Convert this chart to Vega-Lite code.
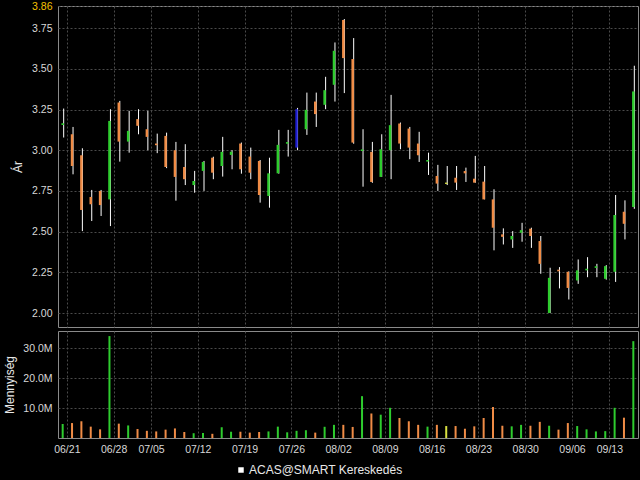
{
  "$schema": "https://vega.github.io/schema/vega-lite/v6.json",
  "background": "#000000",
  "padding": {"left": 3, "top": 0, "right": 4, "bottom": 6},
  "spacing": 2,
  "resolve": {"scale": {"color": "independent", "stroke": "shared"}, "legend": {"stroke": "shared"}},
  "config": {
    "font": "Liberation Sans",
    "view": {"stroke": "#8a8a8a", "strokeWidth": 1},
    "axis": {
      "labelColor": "#d8d8d8", "titleColor": "#e8e8e8",
      "labelFont": "Liberation Sans", "labelFontSize": 10.5,
      "titleFont": "Liberation Sans", "titleFontSize": 12, "titleFontWeight": "normal",
      "gridColor": "#4a4a4a", "gridDash": [2, 2], "gridOpacity": 1,
      "domain": false, "ticks": false, "labelPadding": 6
    }
  },
  "data": {"values": [
    {"d":"2009-06-19","o":3.155,"h":3.256,"l":3.078,"c":3.165,"v":4700000,"dir":"up"},
    {"d":"2009-06-22","o":3.098,"h":3.143,"l":2.852,"c":2.903,"v":5000000,"dir":"down"},
    {"d":"2009-06-23","o":2.969,"h":3.012,"l":2.503,"c":2.633,"v":5600000,"dir":"down"},
    {"d":"2009-06-24","o":2.713,"h":2.756,"l":2.565,"c":2.668,"v":3800000,"dir":"down"},
    {"d":"2009-06-25","o":2.75,"h":2.756,"l":2.596,"c":2.663,"v":2900000,"dir":"down"},
    {"d":"2009-06-26","o":2.698,"h":3.252,"l":2.534,"c":3.18,"v":34100000,"dir":"up"},
    {"d":"2009-06-29","o":3.293,"h":3.303,"l":2.93,"c":3.053,"v":4800000,"dir":"down"},
    {"d":"2009-06-30","o":3.053,"h":3.242,"l":2.985,"c":3.119,"v":4200000,"dir":"up"},
    {"d":"2009-07-01","o":3.191,"h":3.252,"l":3.098,"c":3.15,"v":3000000,"dir":"down"},
    {"d":"2009-07-02","o":3.129,"h":3.242,"l":3.0,"c":3.082,"v":2400000,"dir":"down"},
    {"d":"2009-07-06","o":3.041,"h":3.102,"l":2.982,"c":3.031,"v":2200000,"dir":"down"},
    {"d":"2009-07-07","o":3.088,"h":3.108,"l":2.89,"c":2.897,"v":2800000,"dir":"down"},
    {"d":"2009-07-08","o":3.0,"h":3.051,"l":2.69,"c":2.836,"v":3200000,"dir":"down"},
    {"d":"2009-07-09","o":2.897,"h":3.037,"l":2.786,"c":2.822,"v":2000000,"dir":"down"},
    {"d":"2009-07-10","o":2.786,"h":2.873,"l":2.739,"c":2.811,"v":1600000,"dir":"up"},
    {"d":"2009-07-13","o":2.873,"h":2.934,"l":2.75,"c":2.928,"v":1700000,"dir":"up"},
    {"d":"2009-07-14","o":2.954,"h":2.96,"l":2.822,"c":2.862,"v":1400000,"dir":"down"},
    {"d":"2009-07-15","o":2.903,"h":3.082,"l":2.838,"c":2.99,"v":3600000,"dir":"up"},
    {"d":"2009-07-16","o":2.971,"h":3.0,"l":2.883,"c":2.991,"v":2100000,"dir":"up"},
    {"d":"2009-07-17","o":3.041,"h":3.047,"l":2.856,"c":2.883,"v":2100000,"dir":"down"},
    {"d":"2009-07-20","o":2.961,"h":3.016,"l":2.822,"c":2.862,"v":1800000,"dir":"down"},
    {"d":"2009-07-21","o":2.934,"h":2.94,"l":2.678,"c":2.725,"v":2000000,"dir":"down"},
    {"d":"2009-07-22","o":2.719,"h":2.954,"l":2.647,"c":2.858,"v":2200000,"dir":"up"},
    {"d":"2009-07-23","o":2.858,"h":3.125,"l":2.856,"c":3.033,"v":3800000,"dir":"up"},
    {"d":"2009-07-24","o":3.04,"h":3.125,"l":2.961,"c":3.05,"v":1900000,"dir":"up"},
    {"d":"2009-07-27","o":3.016,"h":3.26,"l":3.0,"c":3.252,"v":2400000,"dir":"special"},
    {"d":"2009-07-28","o":3.129,"h":3.354,"l":3.094,"c":3.248,"v":2600000,"dir":"up"},
    {"d":"2009-07-29","o":3.299,"h":3.354,"l":3.143,"c":3.222,"v":1800000,"dir":"down"},
    {"d":"2009-07-30","o":3.279,"h":3.451,"l":3.252,"c":3.369,"v":3750000,"dir":"up"},
    {"d":"2009-07-31","o":3.402,"h":3.662,"l":3.299,"c":3.611,"v":4400000,"dir":"up"},
    {"d":"2009-08-03","o":3.8,"h":3.806,"l":3.351,"c":3.566,"v":4400000,"dir":"down"},
    {"d":"2009-08-04","o":3.56,"h":3.689,"l":3.04,"c":3.047,"v":3700000,"dir":"down"},
    {"d":"2009-08-05","o":2.995,"h":3.129,"l":2.776,"c":3.005,"v":14000000,"dir":"up"},
    {"d":"2009-08-06","o":2.99,"h":3.051,"l":2.8,"c":2.805,"v":8200000,"dir":"down"},
    {"d":"2009-08-07","o":2.836,"h":3.098,"l":2.836,"c":3.006,"v":7800000,"dir":"up"},
    {"d":"2009-08-10","o":3.0,"h":3.34,"l":2.822,"c":3.154,"v":10100000,"dir":"up"},
    {"d":"2009-08-11","o":3.164,"h":3.17,"l":3.006,"c":3.041,"v":6700000,"dir":"down"},
    {"d":"2009-08-12","o":3.133,"h":3.143,"l":2.945,"c":3.016,"v":5600000,"dir":"down"},
    {"d":"2009-08-13","o":3.041,"h":3.113,"l":2.928,"c":2.969,"v":4400000,"dir":"down"},
    {"d":"2009-08-14","o":2.93,"h":2.985,"l":2.848,"c":2.94,"v":3800000,"dir":"up"},
    {"d":"2009-08-17","o":2.842,"h":2.91,"l":2.75,"c":2.795,"v":4400000,"dir":"down"},
    {"d":"2009-08-18","o":2.801,"h":2.903,"l":2.786,"c":2.793,"v":4000000,"dir":"flat"},
    {"d":"2009-08-19","o":2.831,"h":2.903,"l":2.756,"c":2.801,"v":4000000,"dir":"down"},
    {"d":"2009-08-20","o":2.872,"h":2.893,"l":2.805,"c":2.858,"v":3100000,"dir":"down"},
    {"d":"2009-08-21","o":2.825,"h":2.965,"l":2.8,"c":2.801,"v":3900000,"dir":"down"},
    {"d":"2009-08-24","o":2.807,"h":2.903,"l":2.698,"c":2.698,"v":6700000,"dir":"down"},
    {"d":"2009-08-25","o":2.698,"h":2.76,"l":2.385,"c":2.524,"v":10400000,"dir":"down"},
    {"d":"2009-08-26","o":2.483,"h":2.52,"l":2.421,"c":2.468,"v":4100000,"dir":"down"},
    {"d":"2009-08-27","o":2.452,"h":2.503,"l":2.4,"c":2.473,"v":3900000,"dir":"up"},
    {"d":"2009-08-28","o":2.493,"h":2.554,"l":2.438,"c":2.509,"v":4400000,"dir":"up"},
    {"d":"2009-08-31","o":2.518,"h":2.524,"l":2.4,"c":2.473,"v":4100000,"dir":"down"},
    {"d":"2009-09-01","o":2.442,"h":2.473,"l":2.241,"c":2.302,"v":5400000,"dir":"down"},
    {"d":"2009-09-02","o":2.0,"h":2.278,"l":2.0,"c":2.216,"v":4100000,"dir":"up"},
    {"d":"2009-09-03","o":2.266,"h":2.282,"l":2.151,"c":2.256,"v":2800000,"dir":"down"},
    {"d":"2009-09-04","o":2.253,"h":2.256,"l":2.083,"c":2.154,"v":5000000,"dir":"down"},
    {"d":"2009-09-08","o":2.2,"h":2.329,"l":2.179,"c":2.262,"v":4000000,"dir":"up"},
    {"d":"2009-09-09","o":2.262,"h":2.343,"l":2.22,"c":2.272,"v":2900000,"dir":"up"},
    {"d":"2009-09-10","o":2.277,"h":2.302,"l":2.22,"c":2.287,"v":2200000,"dir":"up"},
    {"d":"2009-09-11","o":2.21,"h":2.294,"l":2.205,"c":2.288,"v":2300000,"dir":"up"},
    {"d":"2009-09-14","o":2.253,"h":2.725,"l":2.191,"c":2.602,"v":10100000,"dir":"up"},
    {"d":"2009-09-15","o":2.622,"h":2.692,"l":2.452,"c":2.548,"v":6800000,"dir":"down"},
    {"d":"2009-09-16","o":2.651,"h":3.519,"l":2.64,"c":3.361,"v":32400000,"dir":"up"}
  ]},
  "vconcat": [
    {
      "width": 580,
      "height": 321,
      "encoding": {
        "x": {
          "field": "d", "type": "ordinal",
          "scale": {"paddingInner": 0, "paddingOuter": 0},
          "axis": {
            "values": ["2009-06-22","2009-06-29","2009-07-06","2009-07-13","2009-07-20","2009-07-27","2009-08-03","2009-08-10","2009-08-17","2009-08-24","2009-08-31","2009-09-08","2009-09-14"],
            "bandPosition": 0, "labels": false, "title": null, "grid": true
          }
        }
      },
      "layer": [
        {
          "mark": {"type": "rule", "strokeWidth": 1, "xOffset": 1},
          "encoding": {
            "y": {
              "field": "h", "type": "quantitative", "title": "Ár",
              "scale": {"domain": [1.914, 3.886], "nice": false, "zero": false},
              "axis": {
                "values": [2, 2.25, 2.5, 2.75, 3, 3.25, 3.5, 3.75, 3.886],
                "labelExpr": "datum.value > 3.8 ? '3.86' : format(datum.value, '.2f')",
                "labelColor": {"condition": {"test": "datum.value > 3.8", "value": "#f5c000"}, "value": "#d8d8d8"},
                "titlePadding": 7,
                "grid": true
              }
            },
            "y2": {"field": "l"},
            "stroke": {
              "datum": "ACAS@SMART Kereskedés", "type": "nominal",
              "scale": {"range": ["#ffffff"]},
              "legend": {
                "title": null, "orient": "none", "legendX": 177, "legendY": 458,
                "symbolType": "square", "symbolSize": 30,
                "symbolFillColor": "#ffffff", "symbolStrokeColor": "#ffffff", "symbolStrokeWidth": 0,
                "labelFontSize": 12, "labelColor": "#e8e8e8", "labelFont": "Liberation Sans",
                "labelOffset": 2, "padding": 0,
                "encode": {"symbols": {"update": {"fill": {"value": "#ffffff"}, "opacity": {"value": 1}}}}
              }
            }
          }
        },
        {
          "mark": {"type": "bar", "size": 2.5},
          "encoding": {
            "y": {"field": "o", "type": "quantitative", "title": "Ár"},
            "y2": {"field": "c"},
            "color": {
              "field": "dir", "type": "nominal",
              "scale": {"domain": ["up", "down", "flat", "special"], "range": ["#2ecc2e", "#f08c46", "#d8e040", "#1c1ccc"]},
              "legend": null
            }
          }
        }
      ]
    },
    {
      "width": 580,
      "height": 107,
      "mark": {"type": "bar", "size": 2},
      "encoding": {
        "x": {
          "field": "d", "type": "ordinal",
          "scale": {"paddingInner": 0, "paddingOuter": 0},
          "axis": {
            "values": ["2009-06-22","2009-06-29","2009-07-06","2009-07-13","2009-07-20","2009-07-27","2009-08-03","2009-08-10","2009-08-17","2009-08-24","2009-08-31","2009-09-08","2009-09-14"],
            "bandPosition": 0, "labelAngle": 0, "title": null, "grid": true, "labelOffset": -4.7,
            "labelExpr": "utcFormat(toDate(datum.value) - utcday(toDate(datum.value)) * 86400000, '%m/%d')"
          }
        },
        "y": {
          "field": "v", "type": "quantitative", "title": "Mennyiség",
          "scale": {"domain": [0, 35800000], "nice": false},
          "axis": {
            "values": [10000000, 20000000, 30000000],
            "labelExpr": "format(datum.value / 1000000, '.1f') + 'M'",
            "titlePadding": 6,
            "grid": true
          }
        },
        "color": {
          "field": "dir", "type": "nominal",
          "scale": {"domain": ["up", "down", "flat", "special"], "range": ["#2ecc2e", "#f08c46", "#d8e040", "#2ecc2e"]},
          "legend": null
        }
      }
    }
  ]
}
